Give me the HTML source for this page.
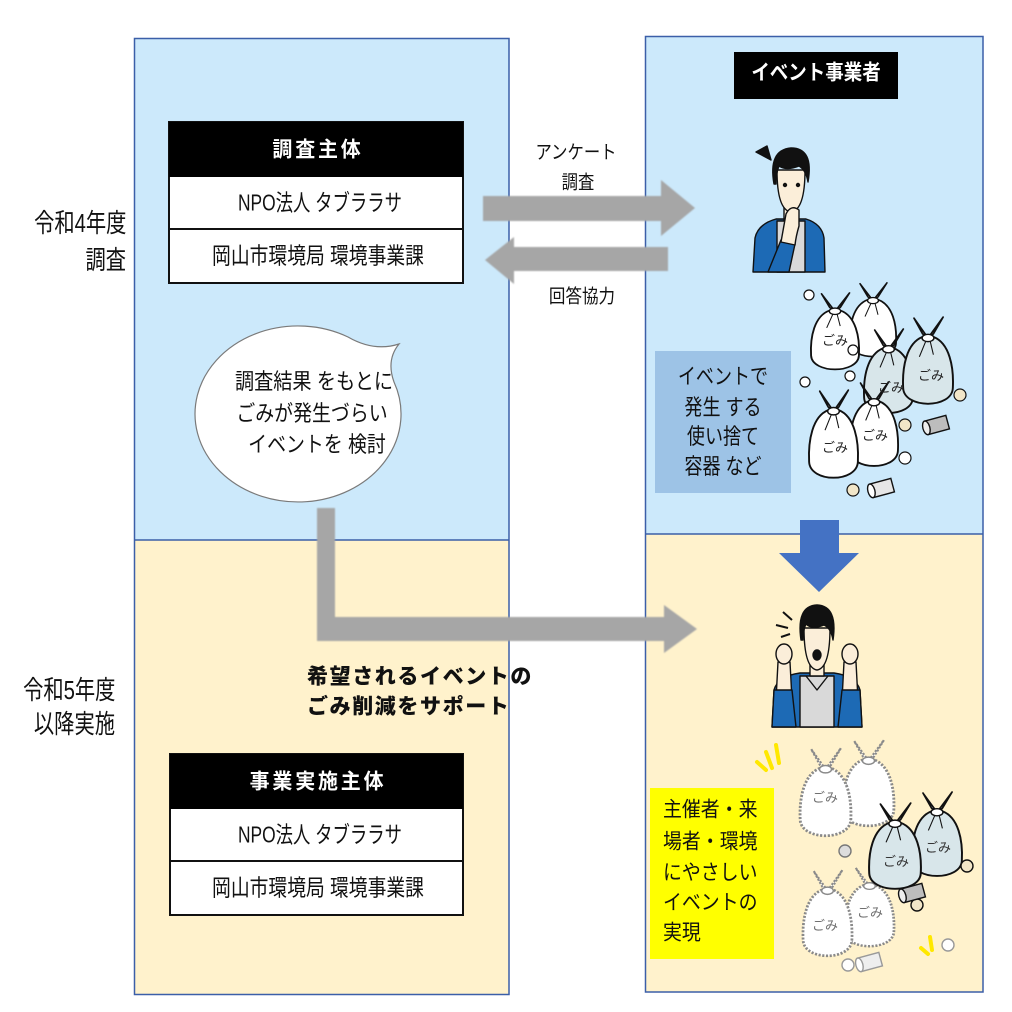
<!DOCTYPE html>
<html><head><meta charset="utf-8">
<style>
html,body{margin:0;padding:0;background:#fff;}
#c{position:relative;width:1012px;height:1012px;overflow:hidden;background:#fff;font-family:"Liberation Sans","Noto Sans CJK JP",sans-serif;color:#111;}
svg{position:absolute;left:0;top:0;}
.t{position:absolute;white-space:nowrap;line-height:1;}
.c{transform:translate(-50%,-50%) scaleX(var(--s,1));}
.l{transform-origin:left center;transform:translateY(-50%) scaleX(var(--s,1));}
.r{transform-origin:right center;transform:translateY(-50%) scaleX(var(--s,1));text-align:right;}
.b{font-weight:700;}
</style></head><body><div id="c">
<svg width="1012" height="1012" viewBox="0 0 1012 1012" xmlns="http://www.w3.org/2000/svg">
<defs>
<filter id="bl" x="-5%" y="-5%" width="110%" height="110%"><feGaussianBlur stdDeviation="0.8"/></filter>
<symbol id="bag" viewBox="0 0 50 90" preserveAspectRatio="none">
<path d="M25 22 L12 3 L20 18 Z M25 22 L39 2 L30 18 Z" fill="#fff" stroke="#111" stroke-width="1.6" stroke-linejoin="round"/>
<path d="M20 21 C5 27,1 50,2 70 C3 90,47 90,48 70 C49 50,45 27,30 21 Z" fill="currentColor" stroke="#111" stroke-width="1.8"/>
<path d="M23 25 L17 40 M27 25 L30 38" stroke="#111" stroke-width="1"/>
<ellipse cx="25" cy="22" rx="5.5" ry="3.5" fill="#fff" stroke="#111" stroke-width="1.4"/>
</symbol>
<symbol id="bagf" viewBox="0 0 50 90" preserveAspectRatio="none">
<path d="M25 22 L12 3 L20 18 Z M25 22 L39 2 L30 18 Z" fill="#fff" stroke="#8a8a8a" stroke-width="2" stroke-dasharray="2 1.5"/>
<path d="M20 21 C5 27,1 50,2 70 C3 90,47 90,48 70 C49 50,45 27,30 21 Z" fill="#fff" stroke="#8a8a8a" stroke-width="2.6" stroke-dasharray="2 1.5"/>
<ellipse cx="25" cy="22" rx="5.5" ry="3.5" fill="#fff" stroke="#8a8a8a" stroke-width="1.4"/>
</symbol>
</defs>

<!-- left panel -->
<rect x="134.5" y="38.5" width="374.5" height="501.5" fill="#cce9fb"/>
<rect x="134.5" y="540" width="374.5" height="454.5" fill="#fff2cc"/>
<rect x="134.5" y="38.5" width="374.5" height="956" fill="none" stroke="#3b5fa8" stroke-width="1.5"/>
<line x1="134.5" y1="540" x2="509" y2="540" stroke="#3b5fa8" stroke-width="1.5"/>

<!-- right panel -->
<rect x="645.5" y="36.5" width="337.5" height="497.5" fill="#cce9fb"/>
<rect x="645.5" y="534" width="337.5" height="458" fill="#fff2cc"/>
<rect x="645.5" y="36.5" width="337.5" height="955.5" fill="none" stroke="#3b5fa8" stroke-width="1.5"/>
<line x1="645.5" y1="534" x2="983" y2="534" stroke="#3b5fa8" stroke-width="1.5"/>

<!-- tables -->
<rect x="169" y="122" width="294" height="161" fill="#fff" stroke="#111" stroke-width="2"/>
<rect x="169" y="122" width="294" height="55" fill="#000"/>
<line x1="169" y1="229" x2="463" y2="229" stroke="#111" stroke-width="2"/>
<rect x="170" y="754" width="293" height="161" fill="#fff" stroke="#111" stroke-width="2"/>
<rect x="170" y="754" width="293" height="55" fill="#000"/>
<line x1="170" y1="861" x2="463" y2="861" stroke="#111" stroke-width="2"/>

<!-- gray arrows -->
<g fill="#a6a6a6" filter="url(#bl)">
<path d="M483 196 L661 196 L661 180 L695 208 L661 236 L661 221 L483 221 Z"/>
<path d="M668 247 L514 247 L514 237 L485 260 L514 284 L514 271 L668 271 Z"/>
<path d="M317 508 L335 508 L335 617 L664 617 L664 605 L697 629 L664 653 L664 641 L317 641 Z"/>
</g>

<!-- blue down arrow -->
<path d="M800 520 L839 520 L839 553 L859 553 L819 592 L779 553 L800 553 Z" fill="#4472c4"/>

<!-- speech bubble -->
<path d="M348 337 Q374 352 399 344 Q386 360 394 382 A103 88 0 1 1 348 337 Z" fill="#fff" stroke="#7a7a7a" stroke-width="1.2"/>

<!-- boxes right -->
<rect x="734" y="52" width="164" height="47" fill="#000"/>
<rect x="655" y="351" width="136" height="142" fill="#9dc3e6"/>
<rect x="650" y="788" width="124" height="171" fill="#ffff00"/>

<!-- person 1 -->
<g stroke="#111" stroke-width="1.4" stroke-linejoin="round">
<path d="M753 272 L755 238 Q758 224 776 219 L806 219 Q822 224 824 238 L825 272 Z" fill="#1d6ab5"/>
<path d="M777 221 L805 221 L805 272 L777 272 Z" fill="#d9d9d9"/>
<rect x="784" y="203" width="13" height="18" fill="#fbeed9"/>
<path d="M777 170 Q777 210 791 212 Q805 210 805 170 Z" fill="#fbeed9"/>
<path d="M774 184 Q768 150 791 148 Q814 148 808 182 Q806 170 799 166 Q787 171 779 166 Q776 173 776 184 Z" fill="#111"/>
<path d="M768 272 L781 240 L795 244 L789 272 Z" fill="#1d6ab5"/>
<path d="M781 242 L786 214 Q791 204 799 210 L799 226 Q796 236 795 245 Z" fill="#fbeed9"/>
<path d="M756 152 L767 146 L771 160 Z" fill="#111"/>
<circle cx="785" cy="185" r="1.5" fill="#111"/><circle cx="798" cy="185" r="1.5" fill="#111"/>
</g>

<!-- person 2 -->
<g stroke="#111" stroke-width="1.4" stroke-linejoin="round">
<path d="M772 727 L774 690 Q778 676 800 673 L834 673 Q856 676 860 690 L862 727 Z" fill="#1d6ab5"/>
<path d="M800 676 L834 676 L834 727 L800 727 Z" fill="#d9d9d9"/>
<path d="M806 676 L817 690 L828 676" fill="none"/>
<rect x="810" y="660" width="14" height="16" fill="#fbeed9"/>
<path d="M804 628 Q804 668 817 670 Q830 668 830 628 Z" fill="#fbeed9"/>
<path d="M801 640 Q796 606 817 605 Q838 606 833 640 Q831 628 824 625 Q812 630 806 624 Q803 630 803 640 Z" fill="#111"/>
<ellipse cx="817" cy="655" rx="4" ry="5" fill="#111"/>
<path d="M776 700 L778 662 L790 662 L792 700 Z" fill="#fbeed9"/>
<path d="M842 700 L844 662 L856 662 L858 700 Z" fill="#fbeed9"/>
<ellipse cx="784" cy="654" rx="8" ry="10" fill="#fbeed9"/>
<ellipse cx="850" cy="654" rx="8" ry="10" fill="#fbeed9"/>
<path d="M772 727 L774 690 L792 690 L796 727 Z M862 727 L860 690 L842 690 L838 727 Z" fill="#1d6ab5"/>
<path d="M783 612 L792 620 M776 625 L788 628 M781 637 L790 634" fill="none" stroke-width="2"/>
</g>

<!-- bags top -->
<g>
<use href="#bag" x="848" y="281" width="50" height="80" color="#fff"/>
<use href="#bag" x="809" y="291" width="52" height="83" color="#fff"/>
<use href="#bag" x="862" y="327" width="53" height="91" color="#d8e6ea"/>
<use href="#bag" x="901" y="315" width="54" height="94" color="#d8e6ea"/>
<use href="#bag" x="848" y="380" width="52" height="91" color="#fff"/>
<use href="#bag" x="807" y="388" width="53" height="95" color="#fff"/>
</g>
<g font-family="'Noto Sans CJK JP',sans-serif" font-size="13" fill="#222">
<text x="822" y="345">ごみ</text>
<text x="878" y="392">ごみ</text>
<text x="918" y="380">ごみ</text>
<text x="862" y="440">ごみ</text>
<text x="822" y="452">ごみ</text>
</g>
<g fill="#fff" stroke="#111" stroke-width="1.2">
<circle cx="809" cy="295" r="5"/><circle cx="805" cy="382" r="5"/>
<circle cx="853" cy="350" r="5"/><circle cx="850" cy="376" r="5"/>
<circle cx="960" cy="395" r="6" fill="#f2e6c8"/><circle cx="905" cy="425" r="6" fill="#f2e6c8"/>
<circle cx="905" cy="458" r="6"/><circle cx="853" cy="490" r="6" fill="#f2e6c8"/>
</g>
<g stroke="#111" stroke-width="1.4">
<g transform="translate(937 425) rotate(-15)"><rect x="-11" y="-7" width="22" height="14" fill="#bdbdbd"/><ellipse cx="-11" cy="0" rx="3.5" ry="7" fill="#eee"/></g>
<g transform="translate(882 488) rotate(-15)"><rect x="-11" y="-7" width="22" height="14" fill="#e6e6e6"/><ellipse cx="-11" cy="0" rx="3.5" ry="7" fill="#fff"/></g>
</g>

<!-- bags bottom -->
<g>
<use href="#bagf" x="841" y="738" width="55" height="93"/>
<use href="#bagf" x="798" y="746" width="55" height="95"/>
<use href="#bagf" x="843" y="865" width="53" height="86"/>
<use href="#bagf" x="801" y="868" width="53" height="93"/>
<use href="#bag" x="910" y="790" width="54" height="91" color="#d8e6ea"/>
<use href="#bag" x="867" y="801" width="56" height="93" color="#d8e6ea"/>
</g>
<g font-family="'Noto Sans CJK JP',sans-serif" font-size="13" fill="#333">
<text x="812" y="802" opacity="0.7">ごみ</text>
<text x="812" y="930" opacity="0.7">ごみ</text>
<text x="857" y="917" opacity="0.7">ごみ</text>
<text x="883" y="866">ごみ</text>
<text x="925" y="852">ごみ</text>
</g>
<g stroke="#111" stroke-width="1.4">
<circle cx="845" cy="851" r="6" fill="#ddd" stroke="#777"/>
<circle cx="967" cy="866" r="6" fill="#f2e6c8"/>
<circle cx="917" cy="905" r="6" fill="#f2e6c8"/>
<g transform="translate(913 893) rotate(-15)"><rect x="-11" y="-7" width="22" height="14" fill="#bdbdbd"/><ellipse cx="-11" cy="0" rx="3.5" ry="7" fill="#eee"/></g>
<g transform="translate(870 962) rotate(-15)" stroke="#999"><rect x="-11" y="-7" width="22" height="14" fill="#eee"/><ellipse cx="-11" cy="0" rx="3.5" ry="7" fill="#fff"/></g>
<circle cx="948" cy="945" r="6" fill="#fff" stroke="#999"/>
<circle cx="848" cy="965" r="6" fill="#fff" stroke="#999"/>
</g>
<g stroke="#ffe800" stroke-width="4" stroke-linecap="round">
<path d="M757 762 L766 770 M766 752 L772 768 M776 745 L779 763"/>
<path d="M921 948 L928 954 M930 937 L932 950"/>
</g>
</svg>

<!-- left labels -->
<div class="t r" style="right:886px;top:223px;font-size:26px;--s:0.78">令和4年度</div>
<div class="t r" style="right:886px;top:260px;font-size:26px;--s:0.78">調査</div>
<div class="t r" style="right:897px;top:690px;font-size:26px;--s:0.78">令和5年度</div>
<div class="t r" style="right:897px;top:724px;font-size:26px;--s:0.78">以降実施</div>

<!-- table 1 -->
<div class="t c b" style="left:318px;top:150px;font-size:21px;color:#fff;letter-spacing:3px;--s:0.95">調査主体</div>
<div class="t c" style="left:320px;top:203px;font-size:23px;--s:0.755">NPO法人 タブララサ</div>
<div class="t c" style="left:318px;top:256px;font-size:23px;--s:0.817">岡山市環境局 環境事業課</div>

<!-- table 2 -->
<div class="t c b" style="left:318px;top:782px;font-size:21px;color:#fff;letter-spacing:3px;--s:0.95">事業実施主体</div>
<div class="t c" style="left:320px;top:835px;font-size:23px;--s:0.755">NPO法人 タブララサ</div>
<div class="t c" style="left:318px;top:888px;font-size:23px;--s:0.817">岡山市環境局 環境事業課</div>

<!-- arrows labels -->
<div class="t c" style="left:576px;top:153px;font-size:19px;--s:0.86">アンケート</div>
<div class="t c" style="left:578px;top:183px;font-size:19px;--s:0.86">調査</div>
<div class="t c" style="left:582px;top:297px;font-size:19px;--s:0.87">回答協力</div>

<!-- bubble text -->
<div class="t c" style="left:314px;top:382px;font-size:22px;--s:0.87">調査結果 をもとに</div>
<div class="t c" style="left:312px;top:414px;font-size:22px;--s:0.86">ごみが発生づらい</div>
<div class="t c" style="left:317px;top:445px;font-size:22px;--s:0.86">イベントを 検討</div>

<!-- bold support text -->
<div class="t l b" style="left:307px;top:677px;font-size:21px;letter-spacing:1.6px;font-weight:900">希望されるイベントの</div>
<div class="t l b" style="left:307px;top:707px;font-size:21px;letter-spacing:1.6px;font-weight:900">ごみ削減をサポート</div>

<!-- right panel texts -->
<div class="t c b" style="left:816px;top:73px;font-size:21px;color:#fff;--s:0.88">イベント事業者</div>
<div class="t c" style="left:723px;top:377px;font-size:22px;--s:0.82">イベントで</div>
<div class="t c" style="left:723px;top:408px;font-size:22px;--s:0.82">発生 する</div>
<div class="t c" style="left:723px;top:437px;font-size:22px;--s:0.82">使い捨て</div>
<div class="t c" style="left:723px;top:467px;font-size:22px;--s:0.82">容器 など</div>

<div class="t l" style="left:663px;top:810px;font-size:21px;--s:0.9">主催者・来</div>
<div class="t l" style="left:663px;top:842px;font-size:21px;--s:0.9">場者・環境</div>
<div class="t l" style="left:663px;top:873px;font-size:21px;--s:0.9">にやさしい</div>
<div class="t l" style="left:663px;top:903px;font-size:21px;--s:0.9">イベントの</div>
<div class="t l" style="left:663px;top:933px;font-size:21px;--s:0.9">実現</div>
</div></body></html>
